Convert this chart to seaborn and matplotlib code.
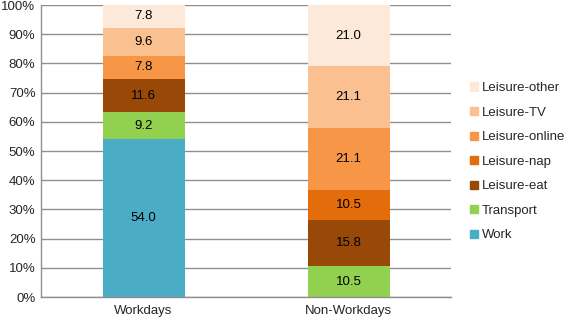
import matplotlib.pyplot as plt
import matplotlib.patches as mpatches
import numpy as np
import pandas as pd
import seaborn as sns
from matplotlib.ticker import PercentFormatter, FixedLocator

sns.set_style("white")
plt.rcParams["font.family"] = ["Liberation Sans", "DejaVu Sans"]

###
# Data
###
days = ["Workdays", "Non-Workdays"]
activities = ["Work", "Transport", "Leisure-eat", "Leisure-nap",
              "Leisure-online", "Leisure-TV", "Leisure-other"]
work = [54.0, 0.0]
transport = [9.2, 10.5]
leisure_eat = [11.6, 15.8]
leisure_nap = [0.0, 10.5]
leisure_online = [7.8, 21.1]
leisure_tv = [9.6, 21.1]
leisure_other = [7.8, 21.0]

colors = ["#4bacc6", "#92d050", "#984807", "#e46c0a",
          "#f79646", "#fac090", "#fde9d9"]

df = pd.DataFrame(
    [work, transport, leisure_eat, leisure_nap, leisure_online, leisure_tv, leisure_other],
    index=activities, columns=days,
)

fig = plt.figure(figsize=(5.67, 3.22), dpi=100)
ax = fig.add_axes([41 / 567, 1 - 297 / 322, 410 / 567, 292 / 322])

bottom = np.zeros(len(days))
for act, col in zip(activities, colors):
    vals = df.loc[act].values
    sns.barplot(x=days, y=vals, bottom=bottom, color=col, width=0.4,
                saturation=1, linewidth=0, ax=ax)
    for i, v in enumerate(vals):
        if v > 0:
            ax.text(i, bottom[i] + v / 2, f"{v:.1f}", ha="center", va="center",
                    fontsize=9.5, color="black")
    bottom = bottom + vals

ax.set_xlim(-0.5, 1.5)
ax.set_ylim(0, 100)
ax.yaxis.set_major_locator(FixedLocator(np.arange(0, 101, 10)))
ax.yaxis.set_major_formatter(PercentFormatter(decimals=0))
ax.yaxis.grid(True, color="#8f8f8f", linewidth=1)
ax.set_axisbelow(True)
ax.set_xlabel("")
ax.set_ylabel("")

for side in ["top", "right"]:
    ax.spines[side].set_visible(False)
for side in ["left", "bottom"]:
    ax.spines[side].set_color("#8f8f8f")
    ax.spines[side].set_linewidth(1)

# category ticks sit at the boundaries
ax.xaxis.set_minor_locator(FixedLocator([-0.5, 0.5, 1.5]))
ax.tick_params(axis="x", which="minor", length=4, color="#8f8f8f", width=1, direction="out")
ax.tick_params(axis="x", which="major", length=0, labelsize=9.5, pad=6)
ax.tick_params(axis="y", length=0, labelsize=9.5, pad=4)

handles = [mpatches.Patch(color=c, label=a) for a, c in zip(activities, colors)][::-1]
fig.legend(handles=handles, loc="upper left", bbox_to_anchor=(465 / 567, 1 - 77 / 322),
           frameon=False, fontsize=9.5, handlelength=0.6, handleheight=0.6,
           handletextpad=0.3, labelspacing=0.95, borderaxespad=0)

fig.savefig("out.png", dpi=100)
